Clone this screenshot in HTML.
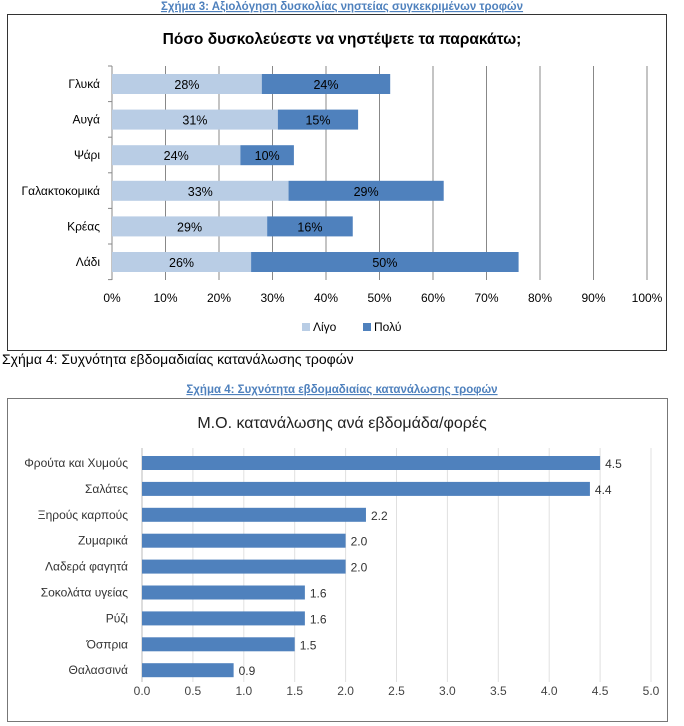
<!DOCTYPE html>
<html><head><meta charset="utf-8"><style>
body{margin:0;background:#fff;width:684px;height:726px;overflow:hidden;font-family:"Liberation Sans",sans-serif}
svg{position:absolute;left:0;top:0}
</style></head><body>
<svg width="684" height="726">
<text x="342" y="10" text-anchor="middle" font-size="11.5" font-weight="bold" fill="#4f81bd" text-decoration="underline">Σχήμα 3: Αξιολόγηση δυσκολίας νηστείας συγκεκριμένων τροφών</text>
<rect x="7.5" y="14.5" width="659" height="336" fill="#fff" stroke="#333"/>
<text x="342" y="44" text-anchor="middle" font-size="15.5" font-weight="bold" fill="#000">Πόσο δυσκολεύεστε να νηστέψετε τα παρακάτω;</text>
<g id="c1"></g>
<text x="2" y="364" font-size="14" fill="#000">Σχήμα 4: Συχνότητα εβδομαδιαίας κατανάλωσης τροφών</text>
<text x="342" y="393" text-anchor="middle" font-size="11.5" font-weight="bold" fill="#4f81bd" text-decoration="underline">Σχήμα 4: Συχνότητα εβδομαδιαίας κατανάλωσης τροφών</text>
<rect x="7.5" y="398.5" width="660" height="323" fill="#fff" stroke="#777"/>
<text x="342" y="428" text-anchor="middle" font-size="16" fill="#222">Μ.Ο. κατανάλωσης ανά εβδομάδα/φορές</text>
<g id="c2"></g>
</svg>
<script>
const cats1=["Γλυκά","Αυγά","Ψάρι","Γαλακτοκομικά","Κρέας","Λάδι"];
const ligo=[28,31,24,33,29,26];
const poly=[24,15,10,29,16,50];
const ticks1=[0,10,20,30,40,50,60,70,80,90,100];
const cats2=["Φρούτα και Χυμούς","Σαλάτες","Ξηρούς καρπούς","Ζυμαρικά","Λαδερά φαγητά","Σοκολάτα υγείας","Ρύζι","Όσπρια","Θαλασσινά"];
const vals2=[4.5,4.4,2.2,2.0,2.0,1.6,1.6,1.5,0.9];
const ticks2=[0,0.5,1,1.5,2,2.5,3,3.5,4,4.5,5];
const NS="http://www.w3.org/2000/svg";
function mk(p,t,a,txt){const e=document.createElementNS(NS,t);for(const k in a)e.setAttribute(k,a[k]);if(txt!==undefined)e.textContent=txt;p.appendChild(e);return e;}
// chart1
const g1=document.getElementById('c1');
const x1=v=>112+v*5.35, y1=i=>84+i*35.6;
ticks1.forEach(t=>{let l=mk(g1,'line',{x1:x1(t),x2:x1(t),y1:66,y2:280,stroke:'#888'});

let tx=mk(g1,'text',{x:x1(t),y:302,'text-anchor':'middle','font-size':12},t+'%');
});
for(let i=0;i<=6;i++){mk(g1,'line',{x1:108,x2:112,y1:66+i*35.6,y2:66+i*35.6,stroke:'#888'});}
cats1.forEach((c,i)=>{const y=y1(i);
let t=mk(g1,'text',{x:100,y:y+4,'text-anchor':'end','font-size':12},c);
let a=mk(g1,'rect',{x:x1(0),y:y-10,width:x1(ligo[i])-x1(0),height:20,fill:'#b9cde5'});
let b=mk(g1,'rect',{x:x1(ligo[i]),y:y-10,width:x1(poly[i])-x1(0),height:20,fill:'#4f81bd'});
let la=mk(g1,'text',{x:(x1(0)+x1(ligo[i]))/2,y:y+5,'text-anchor':'middle','font-size':12.5},ligo[i]+'%');
let lb=mk(g1,'text',{x:(x1(ligo[i])+x1(ligo[i]+poly[i]))/2,y:y+5,'text-anchor':'middle','font-size':12.5},poly[i]+'%');});
let lg1=mk(g1,'rect',{x:302,y:323,width:8,height:8,fill:'#b9cde5'});
let lt1=mk(g1,'text',{x:313,y:331,'font-size':12},'Λίγο');
let lg2=mk(g1,'rect',{x:363,y:323,width:8,height:8,fill:'#4f81bd'});
let lt2=mk(g1,'text',{x:374,y:331,'font-size':12},'Πολύ');
// chart2
const g2=document.getElementById('c2');
const x2=v=>142+v*101.8, y2=i=>463+i*25.9;
ticks2.forEach(t=>{let l=mk(g2,'line',{x1:x2(t),x2:x2(t),y1:448,y2:682,stroke:t===0?'#bbb':'#e0e0e0'});

let tx=mk(g2,'text',{x:x2(t),y:695,'text-anchor':'middle','font-size':12,fill:'#444'},t.toFixed(1));
});
cats2.forEach((c,i)=>{const y=y2(i);
let t=mk(g2,'text',{x:128,y:y+4,'text-anchor':'end','font-size':12,fill:'#333'},c);
let b=mk(g2,'rect',{x:x2(0),y:y-7,width:x2(vals2[i])-x2(0),height:14,fill:'#4f81bd'});
let v=mk(g2,'text',{x:x2(vals2[i])+5,y:y+5,'font-size':12,fill:'#333'},vals2[i].toFixed(1));});
</script>
</body></html>
